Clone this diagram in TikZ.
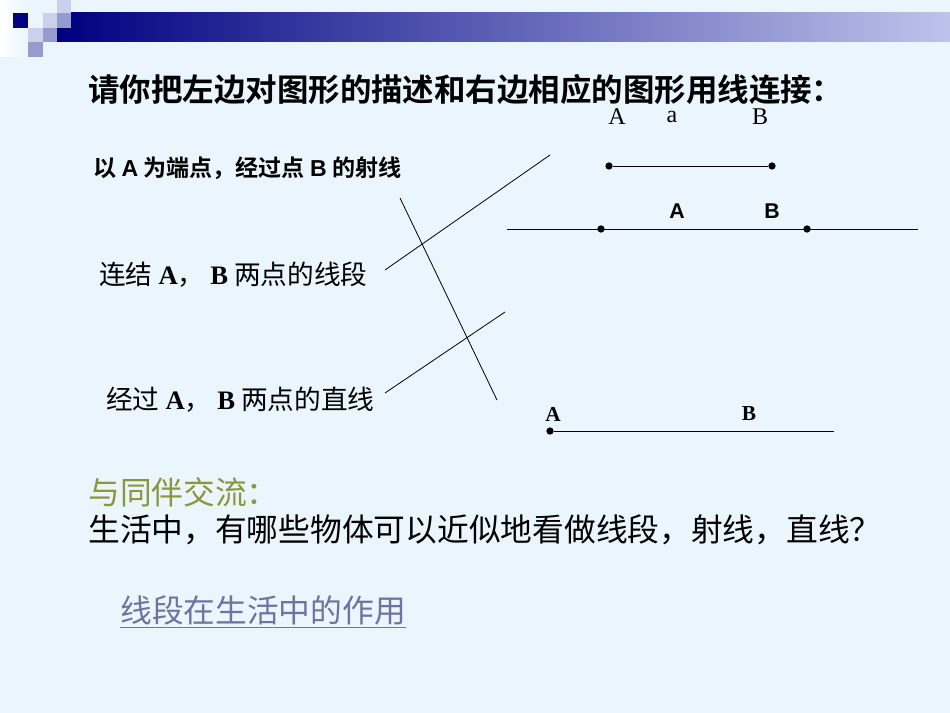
\documentclass[tikz,border=0pt]{standalone}
\usepackage{fontspec}
\setmainfont{Liberation Serif}
\newfontfamily\cjk{Noto Sans CJK SC}
\newfontfamily\cjkb{Noto Sans CJK SC Bold}
\newfontfamily\lsans{Liberation Sans}
\definecolor{bg}{RGB}{234,245,253}
\definecolor{navy}{RGB}{0,0,128}
\definecolor{lightsq}{RGB}{205,208,235}
\definecolor{midsq}{RGB}{150,155,205}
\definecolor{barend}{RGB}{190,195,235}
\definecolor{olive}{RGB}{140,150,60}
\definecolor{linkc}{RGB}{110,115,160}
\begin{document}
\begin{tikzpicture}[x=0.75pt,y=-0.75pt,
  dot/.style={circle,fill=black,inner sep=0pt,minimum size=5.5pt},
  thin line/.style={line width=0.6pt},
  lbl/.style={inner sep=0pt,anchor=west}]
\fill[bg] (0,0) rectangle (950,713);
\useasboundingbox (0,0) rectangle (950,713);
% header
\shade[left color=white,right color=bg] (0,0) rectangle (28,57);
\shade[left color=navy,right color=barend] (57,13) rectangle (950,42);
\fill[navy] (13,13) rectangle (28,28);
\fill[lightsq] (43,13) rectangle (57,28);
\fill[lightsq] (57,0) rectangle (71,13);
\fill[midsq] (57,13) rectangle (71,28);
\fill[lightsq] (28,28) rectangle (43,42);
\fill[midsq] (43,28) rectangle (57,42);
\fill[midsq] (28,42) rectangle (43,57);
% title
\node[lbl] (title) at (88,90) {\cjkb\fontsize{23.6pt}{25pt}\selectfont 请你把左边对图形的描述和右边相应的图形用线连接：};
% descriptions
\node[lbl] (d1) at (93,168) {\cjkb\fontsize{17.3pt}{19pt}\selectfont 以 {\lsans\bfseries A} 为端点，经过点 {\lsans\bfseries B} 的射线};
\node[lbl] (d2) at (99,275) {\cjk\fontsize{20pt}{22pt}\selectfont 连结 {\rmfamily\bfseries A}，\ {\rmfamily\bfseries B} 两点的线段};
\node[lbl] (d3) at (106,400) {\cjk\fontsize{20pt}{22pt}\selectfont 经过 {\rmfamily\bfseries A}，\ {\rmfamily\bfseries B} 两点的直线};
% connecting lines
\coordinate (l1a) at (385,270); \coordinate (l1b) at (550,155);
\coordinate (l2a) at (400,198); \coordinate (l2b) at (497,400);
\coordinate (l3a) at (385,393); \coordinate (l3b) at (505,312);
\draw[thin line] (l1a) -- (l1b);
\draw[thin line] (l2a) -- (l2b);
\draw[thin line] (l3a) -- (l3b);
% figure 1: segment
\node (fa) at (617,117) {\fontsize{18pt}{20pt}\selectfont A};
\node (fsa) at (672,117) {\fontsize{18pt}{20pt}\selectfont a};
\node (fb) at (760,117) {\fontsize{18pt}{20pt}\selectfont B};
\node[dot] (s1) at (609,166) {};
\node[dot] (s2) at (772,166) {};
\draw[thin line] (s1) -- (s2);
% figure 2: line
\coordinate (ll) at (507,229); \coordinate (lr) at (918,229);
\node[dot] (p1) at (601,229) {};
\node[dot] (p2) at (807,229) {};
\draw[thin line] (ll) -- (lr);
\node (la) at (677,211) {\lsans\bfseries\fontsize{16pt}{18pt}\selectfont A};
\node (lb) at (772,211) {\lsans\bfseries\fontsize{16pt}{18pt}\selectfont B};
% figure 3: ray
\node[dot] (r1) at (550,431) {};
\coordinate (r2) at (834,431);
\draw[thin line] (r1) -- (r2);
\node (ra) at (553,414) {\bfseries\fontsize{16pt}{18pt}\selectfont A};
\node (rb) at (749,414) {\bfseries\fontsize{16pt}{18pt}\selectfont B};
% bottom text
\node[lbl,text=olive] (t1) at (88,492) {\cjk\fontsize{23.8pt}{26pt}\selectfont 与同伴交流：};
\node[lbl] (t2) at (88,530) {\cjk\fontsize{23.8pt}{26pt}\selectfont 生活中，有哪些物体可以近似地看做线段，射线，直线？};
\node[lbl,text=linkc] (t3) at (120,610) {\cjk\fontsize{23.8pt}{26pt}\selectfont 线段在生活中的作用};
\draw[linkc,line width=0.8pt] ([yshift=-2]t3.south west) -- ([yshift=-2]t3.south east);
\end{tikzpicture}
\end{document}
